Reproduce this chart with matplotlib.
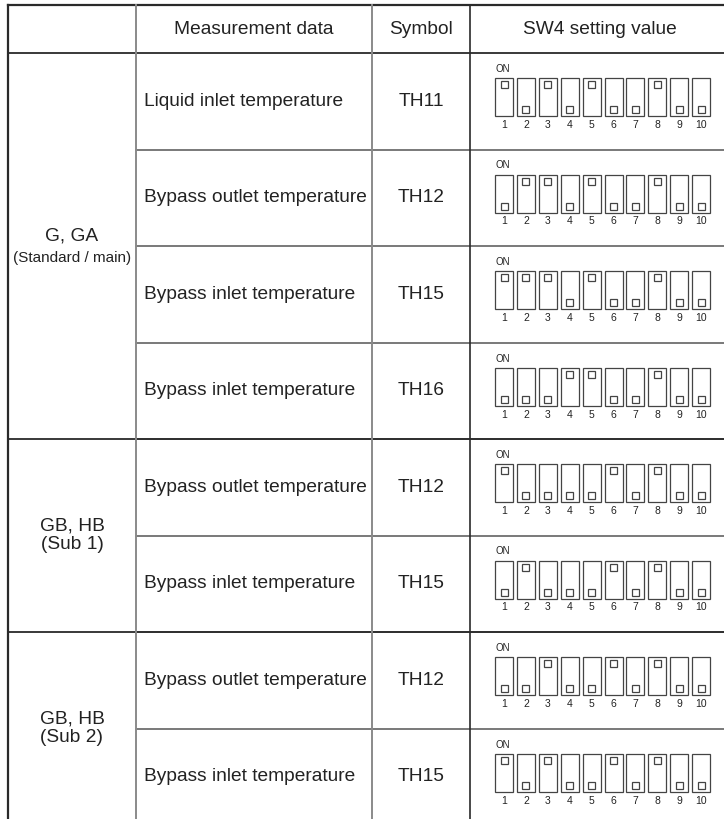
import numpy as np
import matplotlib.pyplot as plt
from matplotlib.patches import Rectangle

plt.rcParams['font.family'] = ['Liberation Sans', 'DejaVu Sans']

# table contents
headers = ['', 'Measurement data', 'Symbol', 'SW4 setting value']
groups = ['G, GA', 'GB, HB\n(Sub 1)', 'GB, HB\n(Sub 2)']
group_notes = ['(Standard / main)', '', '']
group_sizes = [4, 2, 2]
measurements = ['Liquid inlet temperature', 'Bypass outlet temperature',
                'Bypass inlet temperature', 'Bypass inlet temperature',
                'Bypass outlet temperature', 'Bypass inlet temperature',
                'Bypass outlet temperature', 'Bypass inlet temperature']
symbols = ['TH11', 'TH12', 'TH15', 'TH16', 'TH12', 'TH15', 'TH12', 'TH15']
# 1 = ON (knob up), 0 = OFF
sw4 = [
    [1, 0, 1, 0, 1, 0, 0, 1, 0, 0],
    [0, 1, 1, 0, 1, 0, 0, 1, 0, 0],
    [1, 1, 1, 0, 1, 0, 0, 1, 0, 0],
    [0, 0, 0, 1, 1, 0, 0, 1, 0, 0],
    [1, 0, 0, 0, 0, 1, 0, 1, 0, 0],
    [0, 1, 0, 0, 0, 1, 0, 1, 0, 0],
    [0, 0, 1, 0, 0, 1, 0, 1, 0, 0],
    [1, 0, 1, 0, 0, 1, 0, 1, 0, 0],
]
switch_numbers = list(range(1, 11))

# layout (pixels)
W, H = 724, 819
col_x = [8, 136, 372, 470, 740]
top = 5
header_h = 48
row_h = 96.5
fs = 13.8
dark = '#2a2a2a'
gray = '#8a8a8a'
txt = '#222222'

fig = plt.figure(figsize=(W / 100, H / 100), dpi=100)
ax = fig.add_axes([0, 0, 1, 1])
ax.set_xlim(0, W)
ax.set_ylim(H, 0)
ax.axis('off')

# header
hy = top + header_h / 2
for i, h in enumerate(headers):
    if h:
        ax.text((col_x[i] + min(col_x[i + 1], 730)) / 2, hy, h, ha='center', va='center',
                fontsize=fs, color=txt)

row_tops = top + header_h + row_h * np.arange(len(measurements))

# rows
for r, (m, s, states) in enumerate(zip(measurements, symbols, sw4)):
    y0 = row_tops[r]
    yc = y0 + row_h / 2
    ax.text(col_x[1] + 8, yc, m, ha='left', va='center', fontsize=fs, color=txt)
    ax.text((col_x[2] + col_x[3]) / 2, yc, s, ha='center', va='center', fontsize=fs, color=txt)
    # dip switch
    bx0 = 495
    ax.text(bx0, y0 + 16, 'ON', ha='left', va='center', fontsize=7, color=txt)
    for k, (num, st) in enumerate(zip(switch_numbers, states)):
        bx = bx0 + k * 21.9
        ax.add_patch(Rectangle((bx, y0 + 25), 18, 38, fill=False, ec='#444444', lw=0.9))
        ky = y0 + 28 if st else y0 + 53
        ax.add_patch(Rectangle((bx + 5.5, ky), 7, 7, fill=False, ec='#444444', lw=0.9))
        ax.text(bx + 9, y0 + 72, str(num), ha='center', va='center', fontsize=7.5, color=txt)
    # inner row divider
    if r > 0:
        ax.plot([col_x[1], W], [y0, y0], color='#555555', lw=1.1)

# groups
start = 0
for g, note, n in zip(groups, group_notes, group_sizes):
    gy0 = row_tops[start]
    gyc = gy0 + n * row_h / 2
    gx = (col_x[0] + col_x[1]) / 2
    if note:
        ax.text(gx, gyc - 10, g, ha='center', va='center', fontsize=fs, color=txt)
        ax.text(gx, gyc + 12, note, ha='center', va='center', fontsize=11, color=txt)
    else:
        ax.text(gx, gyc, g, ha='center', va='center', fontsize=fs, color=txt, linespacing=1.15)
    ax.plot([col_x[0], W], [gy0, gy0], color=dark, lw=1.3)
    start += n

# frame lines
ax.plot([col_x[0], W], [top, top], color=dark, lw=1.6)
ax.plot([col_x[0], col_x[0]], [top, H], color=dark, lw=1.6)
ax.plot([col_x[1], col_x[1]], [top, H], color=gray, lw=1.4)
ax.plot([col_x[2], col_x[2]], [top, H], color=gray, lw=1.4)
ax.plot([col_x[3], col_x[3]], [top, H], color=dark, lw=1.2)

fig.savefig('out.png', dpi=100)
